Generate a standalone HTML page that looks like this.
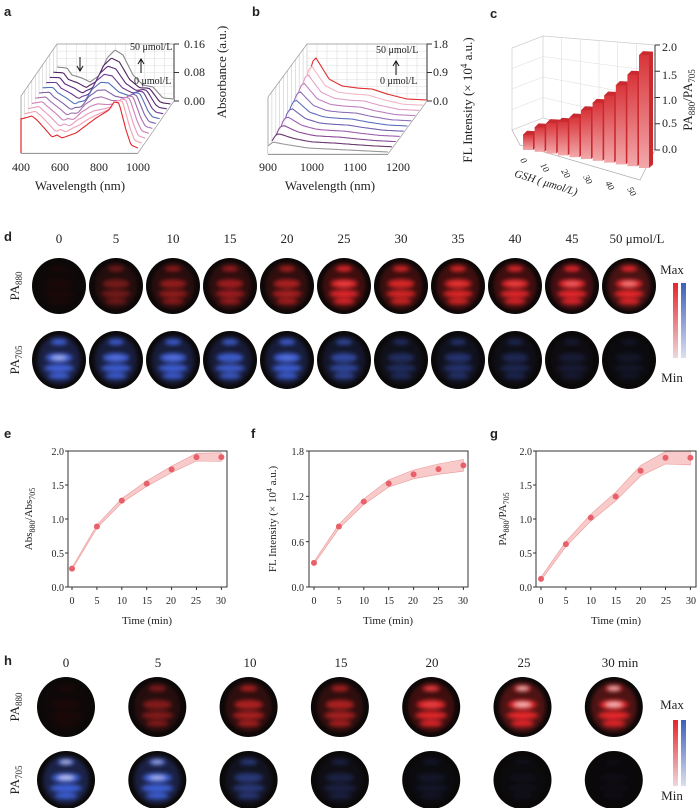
<!DOCTYPE html>
<html><head><meta charset="utf-8"><style>
body{margin:0;background:#fff}
svg{display:block}
text{font-family:"Liberation Serif",serif;fill:#222}
.t{font-size:12px}
.L{font-family:"Liberation Sans",sans-serif;font-weight:bold;font-size:13px}
</style></head><body>
<svg id="s" width="700" height="808" viewBox="0 0 700 808" xmlns="http://www.w3.org/2000/svg">
<defs>
<filter id="bl" x="-50%" y="-50%" width="200%" height="200%"><feGaussianBlur stdDeviation="2.2"/></filter>
<linearGradient id="cr" x1="0" y1="0" x2="0" y2="1"><stop offset="0" stop-color="#e8242a"/><stop offset="1" stop-color="#ecd8dc"/></linearGradient>
<linearGradient id="cb" x1="0" y1="0" x2="0" y2="1"><stop offset="0" stop-color="#3d5fb8"/><stop offset="1" stop-color="#dcdff0"/></linearGradient>
<linearGradient id="bar" x1="0" y1="0" x2="0" y2="1"><stop offset="0" stop-color="#d8353a"/><stop offset="1" stop-color="#f2a8aa"/></linearGradient>
</defs>
<g id="g"></g>
<text class="L" x="4" y="16">a</text>
<text class="L" x="252" y="16">b</text>
<text class="L" x="490" y="18">c</text>
<text class="L" x="4" y="241">d</text>
<text class="L" x="4" y="438">e</text>
<text class="L" x="251" y="438">f</text>
<text class="L" x="490" y="438">g</text>
<text class="L" x="4" y="665">h</text>
<g class="t" text-anchor="middle">
<text x="21" y="171">400</text><text x="60" y="171">600</text><text x="99" y="171">800</text><text x="138" y="171">1000</text>
<text x="80" y="190" font-size="13">Wavelength (nm)</text>
<text x="268" y="171">900</text><text x="312" y="171">1000</text><text x="355" y="171">1100</text><text x="398" y="171">1200</text>
<text x="330" y="190" font-size="13">Wavelength (nm)</text>
</g>
<g class="t">
<text x="184" y="48">0.16</text><text x="184" y="76">0.08</text><text x="184" y="105">0.00</text>
<text x="433" y="48">1.8</text><text x="433" y="76">0.9</text><text x="433" y="105">0.0</text>
<text x="662" y="51">2.0</text><text x="662" y="79">1.5</text><text x="662" y="104">1.0</text><text x="662" y="127">0.5</text><text x="662" y="153">0.0</text>
</g>
<text x="130" y="50" font-size="10">50 μmol/L</text><text x="134" y="84" font-size="10">0 μmol/L</text>
<text x="376" y="53" font-size="10">50 μmol/L</text><text x="380" y="84" font-size="10">0 μmol/L</text>
<text transform="translate(226,72) rotate(-90)" text-anchor="middle" font-size="13">Absorbance (a.u.)</text>
<text transform="translate(472,100) rotate(-90)" text-anchor="middle" font-size="13">FL Intensity (× 10<tspan dy="-5" font-size="9">4</tspan><tspan dy="5"> a.u.)</tspan></text>
<text transform="translate(692,100) rotate(-90)" text-anchor="middle" font-size="13">PA<tspan font-size="9" dy="3">880</tspan><tspan dy="-3">/PA</tspan><tspan font-size="9" dy="3">705</tspan></text>
<text transform="translate(545,186) rotate(17)" text-anchor="middle" font-size="11" font-style="italic">GSH ( μmol/L)</text>
<g font-size="9" font-style="italic">
<text transform="translate(520,160) rotate(60)">0</text><text transform="translate(540,165) rotate(60)">10</text><text transform="translate(561,171) rotate(60)">20</text><text transform="translate(583,177) rotate(60)">30</text><text transform="translate(605,183) rotate(60)">40</text><text transform="translate(627,189) rotate(60)">50</text>
</g>
<g font-size="13" text-anchor="middle">
<text x="59" y="243">0</text><text x="116" y="243">5</text><text x="173" y="243">10</text><text x="230" y="243">15</text><text x="287" y="243">20</text><text x="344" y="243">25</text><text x="401" y="243">30</text><text x="458" y="243">35</text><text x="515" y="243">40</text><text x="572" y="243">45</text><text x="637" y="243">50 μmol/L</text>
<text x="672" y="274">Max</text><text x="672" y="382">Min</text>
<text x="66" y="667">0</text><text x="158" y="667">5</text><text x="250" y="667">10</text><text x="341" y="667">15</text><text x="432" y="667">20</text><text x="524" y="667">25</text><text x="620" y="667">30 min</text>
<text x="672" y="709">Max</text><text x="672" y="800">Min</text>
</g>
<g font-size="13">
<text transform="translate(19,286) rotate(-90)" text-anchor="middle">PA<tspan font-size="9" dy="3">880</tspan></text>
<text transform="translate(19,360) rotate(-90)" text-anchor="middle">PA<tspan font-size="9" dy="3">705</tspan></text>
<text transform="translate(19,707) rotate(-90)" text-anchor="middle">PA<tspan font-size="9" dy="3">880</tspan></text>
<text transform="translate(19,780) rotate(-90)" text-anchor="middle">PA<tspan font-size="9" dy="3">705</tspan></text>
</g>
<rect x="673" y="283" width="5" height="75" fill="url(#cr)"/><rect x="681" y="283" width="5" height="75" fill="url(#cb)"/>
<rect x="673" y="720" width="5" height="66" fill="url(#cr)"/><rect x="681" y="720" width="5" height="66" fill="url(#cb)"/>
<g font-size="10" text-anchor="end">
<text x="64" y="455">2.0</text><text x="64" y="489">1.5</text><text x="64" y="523">1.0</text><text x="64" y="557">0.5</text><text x="64" y="591">0.0</text>
<text x="304" y="455">1.8</text><text x="304" y="500">1.2</text><text x="304" y="546">0.6</text><text x="304" y="591">0.0</text>
<text x="532" y="455">2.0</text><text x="532" y="489">1.5</text><text x="532" y="523">1.0</text><text x="532" y="557">0.5</text><text x="532" y="591">0.0</text>
</g>
<g font-size="10" text-anchor="middle">
<text x="72" y="604">0</text><text x="97" y="604">5</text><text x="122" y="604">10</text><text x="147" y="604">15</text><text x="171" y="604">20</text><text x="196" y="604">25</text><text x="221" y="604">30</text>
<text x="314" y="604">0</text><text x="339" y="604">5</text><text x="364" y="604">10</text><text x="389" y="604">15</text><text x="413" y="604">20</text><text x="438" y="604">25</text><text x="463" y="604">30</text>
<text x="541" y="604">0</text><text x="566" y="604">5</text><text x="591" y="604">10</text><text x="616" y="604">15</text><text x="641" y="604">20</text><text x="666" y="604">25</text><text x="691" y="604">30</text>
</g>
<g font-size="11" text-anchor="middle">
<text x="147" y="624">Time (min)</text><text x="388" y="624">Time (min)</text><text x="616" y="624">Time (min)</text>
<text transform="translate(32,519) rotate(-90)">Abs<tspan font-size="8" dy="3">880</tspan><tspan dy="-3">/Abs</tspan><tspan font-size="8" dy="3">705</tspan></text>
<text transform="translate(276,519) rotate(-90)">FL Intensity (× 10<tspan font-size="8" dy="-4">4</tspan><tspan dy="4"> a.u.)</tspan></text>
<text transform="translate(506,519) rotate(-90)">PA<tspan font-size="8" dy="3">880</tspan><tspan dy="-3">/PA</tspan><tspan font-size="8" dy="3">705</tspan></text>
</g>
</svg>
<script>
var g=document.getElementById('g'),H='';
function P(pts){return pts.map(function(p,i){return (i?'L':'M')+p[0].toFixed(1)+' '+p[1].toFixed(1)}).join('')}
function interp(arr,x){for(var i=1;i<arr.length;i++){if(x<=arr[i][0]){var a=arr[i-1],b=arr[i],t=(x-a[0])/(b[0]-a[0]);return a[1]+t*(b[1]-a[1]);}}return arr[arr.length-1][1];}
var cols=['#e0282c','#f2a0b4','#e89ac0','#cc80b8','#a870b0','#8060a8','#5070b8','#6a3a90','#582878','#502060','#888888'];
function frame(fx0,fx1,fy,ox,oy,top){
 var s='';var bx0=fx0+ox,bx1=fx1+ox,by=fy+oy;
 for(var i=0;i<=12;i++){var x=bx0+(bx1-bx0)*i/12;s+='<line x1="'+x+'" y1="'+top+'" x2="'+x+'" y2="'+by+'" stroke="#ddd" stroke-width="0.6"/>';}
 for(var j=0;j<=8;j++){var y=top+(by-top)*j/8;s+='<line x1="'+bx0+'" y1="'+y+'" x2="'+bx1+'" y2="'+y+'" stroke="#ddd" stroke-width="0.6"/>';}
 for(var i=0;i<=10;i++){var x=fx0+ox*i/10,y0=fy+oy*i/10;s+='<line x1="'+x+'" y1="'+y0+'" x2="'+x+'" y2="'+(y0-(by-top))+'" stroke="#ccc" stroke-width="0.6"/>';}
 s+='<path d="M'+fx0+' '+fy+'L'+fx0+' '+(fy-(by-top))+'L'+bx0+' '+top+'L'+bx1+' '+top+'L'+bx1+' '+by+'L'+fx1+' '+fy+'Z" fill="none" stroke="#999" stroke-width="0.7"/>';
 s+='<line x1="'+fx0+'" y1="'+fy+'" x2="'+fx1+'" y2="'+fy+'" stroke="#333"/>';
 s+='<line x1="'+fx0+'" y1="'+fy+'" x2="'+bx0+'" y2="'+by+'" stroke="#999" stroke-width="0.7"/>';
 s+='<line x1="'+bx1+'" y1="'+top+'" x2="'+bx1+'" y2="'+by+'" stroke="#333"/>';
 for(var j=0;j<3;j++){var y=top+(by-top)*j/2;s+='<line x1="'+bx1+'" y1="'+y+'" x2="'+(bx1+5)+'" y2="'+y+'" stroke="#333"/>';}
 return s;}
H+=frame(21,138,153,36,-52,44);
H+=frame(268,388,154,39,-53,44);
var fa=[[0,34],[11,37],[16,33],[25,23],[31,16],[36,18],[41,15],[55,20],[75,35],[88,43],[93,51],[98,50],[105,23],[110,8],[117,5]];
var ba=[[0,34],[10,33],[15,26],[25,23],[33,19],[43,26],[50,43],[58,51],[66,46],[76,26],[86,16],[96,14],[106,3],[117,2]];
for(var k=10;k>=0;k--){var t=k/10,ox=21+3.6*k,oy=153-5.2*k,pts=[];
 for(var x=0;x<=117;x+=1.5){var h=(1-t)*interp(fa,x)+t*interp(ba,x);pts.push([ox+x,oy-h]);}
 var c=pts.slice();c.push([ox+117,oy]);c.push([ox,oy]);
 H+='<path d="'+P(c)+'Z" fill="#fff" opacity="0.85"/>';
 H+='<path d="'+P(pts)+'" fill="none" stroke="'+cols[k]+'" stroke-width="1.1"/>';}
H+='<line x1="21" y1="153" x2="21" y2="118" stroke="#e0282c" stroke-width="1.2"/>';
H+='<path d="M80 57 L80 70 M77 66 L80 71 L83 66" stroke="#111" fill="none"/><path d="M141 73 L141 60 M138 64 L141 59 L144 64" stroke="#111" fill="none"/>';
var fb=[[0,8],[5,12],[15,10],[40,6],[80,4],[120,2]];
var bb=[[0,5],[3,30],[6,40],[9,43],[14,35],[22,22],[35,15],[50,13],[65,12],[80,7],[100,2],[120,1]];
var colsb=['#999','#6a3a70','#8a4a98','#a060b0','#7060b0','#6070c0','#9070b8','#c080c0','#e0a0c8','#f0b8c8','#e03030'];
for(var k=10;k>=0;k--){var t=k/10,ox=268+3.9*k,oy=154-5.3*k,pts=[];
 for(var x=0;x<=120;x+=1.5){var h=(1-t)*interp(fb,x)+t*interp(bb,x);pts.push([ox+x,oy-h]);}
 var c=pts.slice();c.push([ox+120,oy]);c.push([ox,oy]);
 H+='<path d="'+P(c)+'Z" fill="#fff" opacity="0.85"/>';
 H+='<path d="'+P(pts)+'" fill="none" stroke="'+colsb[k]+'" stroke-width="1.1"/>';}
H+='<path d="M396 75 L396 62 M393 66 L396 61 L399 66" stroke="#111" fill="none"/>';
var cs='';
cs+='<path d="M512 130 L512 48 L543 36 L543 118 Z" fill="none" stroke="#ccc" stroke-width="0.7"/>';
cs+='<path d="M543 36 L655 45 L655 150 M543 118 L655 150" fill="none" stroke="#ccc" stroke-width="0.7"/>';
for(var i=1;i<6;i++){var x=543+112*i/6;cs+='<line x1="'+x+'" y1="'+(36+9*i/6)+'" x2="'+x+'" y2="'+(118+32*i/6)+'" stroke="#ddd" stroke-width="0.6"/>';}
for(var j=1;j<4;j++){var y1=36+82*j/4,y2=45+105*j/4;cs+='<line x1="543" y1="'+y1+'" x2="655" y2="'+y2+'" stroke="#ddd" stroke-width="0.6"/><line x1="512" y1="'+(48+82*j/4)+'" x2="543" y2="'+y1+'" stroke="#ddd" stroke-width="0.6"/>';}
cs+='<line x1="655" y1="45" x2="655" y2="150" stroke="#333"/>';
for(var j=0;j<5;j++){var y=45+105*j/4;cs+='<line x1="655" y1="'+y+'" x2="660" y2="'+y+'" stroke="#333"/>';}
cs+='<path d="M512 130 L520 145 L640 180 L655 150" fill="none" stroke="#aaa" stroke-width="0.7"/>';
var vals=[0.25,0.4,0.5,0.55,0.65,0.8,0.95,1.1,1.3,1.5,1.85];
for(var i=0;i<11;i++){var x=523+i*11.6,yb=150+i*1.8,h=vals[i]*61,w=10;
 cs+='<path d="M'+x+' '+(yb-h)+'L'+(x+4)+' '+(yb-h-4)+'L'+(x+w+4)+' '+(yb-h-3.5)+'L'+(x+w+4)+' '+(yb-3.5)+'L'+(x+w)+' '+yb+'Z" fill="#c82a30"/>';
 cs+='<rect x="'+x+'" y="'+(yb-h)+'" width="'+w+'" height="'+h+'" fill="url(#bar)"/>';}
H+=cs;
var eid=0;
function img(cx,cy,rx,ry,col,t,pat){eid++;var s='<clipPath id="c'+eid+'"><ellipse cx="'+cx+'" cy="'+cy+'" rx="'+rx+'" ry="'+ry+'"/></clipPath>';
 s+='<ellipse cx="'+cx+'" cy="'+cy+'" rx="'+rx+'" ry="'+ry+'" fill="#0b0808"/>';
 s+='<g clip-path="url(#c'+eid+')"><g filter="url(#bl)">';
 s+='<ellipse cx="'+cx+'" cy="'+cy+'" rx="'+(rx*0.8)+'" ry="'+(ry*0.85)+'" fill="'+col+'" opacity="'+(0.3*t)+'"/>';
 var bl=[[-0.62,0.3,0.1],[-0.08,0.5,0.16],[0.28,0.55,0.13],[0.55,0.4,0.1]];
 for(var i=0;i<bl.length;i++){var b=bl[i];s+='<ellipse cx="'+cx+'" cy="'+(cy+b[0]*ry)+'" rx="'+(b[1]*rx)+'" ry="'+(b[2]*ry)+'" fill="'+col+'" opacity="'+Math.min(1,t*1.2)+'"/>';}
 if(t>0.75){s+='<ellipse cx="'+cx+'" cy="'+(cy-0.08*ry)+'" rx="'+(0.28*rx)+'" ry="'+(0.06*ry)+'" fill="#fff" opacity="'+((t-0.75)*3)+'"/>';if(pat)s+='<ellipse cx="'+cx+'" cy="'+(cy-0.62*ry)+'" rx="'+(0.2*rx)+'" ry="'+(0.05*ry)+'" fill="#fff" opacity="'+((t-0.75)*3)+'"/>';}
 s+='</g></g>';return s;}
var dr=[0.05,0.35,0.45,0.5,0.55,0.8,0.75,0.78,0.8,0.85,0.9];
var db=[0.95,0.8,0.8,0.75,0.8,0.55,0.3,0.35,0.25,0.15,0.1];
for(var i=0;i<11;i++){var cx=59+i*57;H+=img(cx,286,27,28,'#e8282a',dr[i],0);H+=img(cx,360,27,29,'#4060d8',db[i],0);}
var hr=[0.05,0.4,0.55,0.55,0.8,1,1],hb=[1,0.95,0.4,0.2,0.1,0.06,0.04];
for(var i=0;i<7;i++){var cx=66+i*91.3;H+=img(cx,707,29,30,'#e8282a',hr[i],1);H+=img(cx,780,29,29,'#3e60d8',hb[i],1);}
function chart(x0,x1,y0,y1,xs,data,ymax,nt,spread){var s='';
 var X=function(i){return xs+i*24.9},Y=function(v){return y1-(v/ymax)*(y1-y0)};
 var up=[],dn=[];for(var i=0;i<7;i++){var d=spread*(0.3+i/6);up.push([X(i),Y(data[i]+d)]);dn.push([X(i),Y(data[i]-d)]);}
 s+='<path d="'+P(up.concat(dn.reverse()))+'Z" fill="#f6b4b4" opacity="0.7" stroke="#e07070" stroke-width="0.6"/>';
 s+='<rect x="'+x0+'" y="'+y0+'" width="'+(x1-x0)+'" height="'+(y1-y0)+'" fill="none" stroke="#333" stroke-width="1"/>';
 for(var j=0;j<=nt;j++){var y=y0+(y1-y0)*j/nt;s+='<line x1="'+x0+'" y1="'+y+'" x2="'+(x0-3)+'" y2="'+y+'" stroke="#333"/>';}
 for(var i=0;i<7;i++){s+='<line x1="'+X(i)+'" y1="'+y1+'" x2="'+X(i)+'" y2="'+(y1+3)+'" stroke="#333"/>';s+='<circle cx="'+X(i)+'" cy="'+Y(data[i])+'" r="3" fill="#e8606a"/>';}
 return s;}
H+=chart(68,227,451,587,72,[0.27,0.89,1.27,1.52,1.73,1.91,1.91],2,4,0.05);
H+=chart(309,468,451,587,314,[0.32,0.80,1.13,1.37,1.49,1.56,1.61],1.8,3,0.06);
H+=chart(536,696,451,587,541,[0.12,0.63,1.02,1.33,1.71,1.90,1.90],2,4,0.08);
g.innerHTML=H;
</script>
</body></html>
